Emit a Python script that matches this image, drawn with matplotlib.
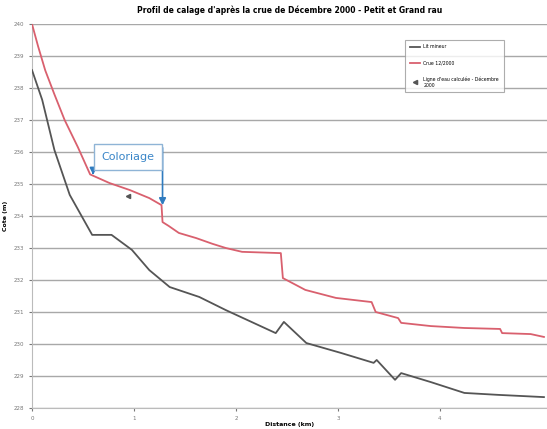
import matplotlib.pyplot as plt

# Profil en long (distance en km, cote en m)
dist_crue = [0, 0.06, 0.13, 0.22, 0.32, 0.45, 0.57, 0.76, 0.96, 1.15, 1.27, 1.28, 1.34, 1.44,
             1.61, 1.77, 1.90, 2.06, 2.44, 2.46, 2.68, 2.98, 3.33, 3.37, 3.59, 3.62, 3.91,
             4.24, 4.59, 4.61, 4.89, 5.02]
cote_crue = [240.0, 239.3, 238.55, 237.8, 237.0, 236.15, 235.3, 235.03, 234.81, 234.56,
             234.34, 233.81, 233.69, 233.47, 233.31, 233.13, 233.0, 232.88, 232.84, 232.06,
             231.69, 231.44, 231.31, 231.0, 230.81, 230.66, 230.56, 230.5, 230.47, 230.34,
             230.31, 230.22]

dist_fond = [0, 0.10, 0.22, 0.37, 0.59, 0.78, 0.98, 1.15, 1.35, 1.64, 1.90, 2.39, 2.47, 2.69,
             3.03, 3.35, 3.38, 3.56, 3.62, 3.91, 4.24, 4.57, 5.02]
cote_fond = [238.56, 237.63, 236.06, 234.66, 233.41, 233.41, 232.94, 232.31, 231.78, 231.47,
             231.06, 230.34, 230.69, 230.03, 229.72, 229.41, 229.5, 228.88, 229.09, 228.81,
             228.47, 228.41, 228.34]

dist_laisse = [0.94]
cote_laisse = [234.62]

x_ticks = [0, 1, 2, 3, 4]
y_ticks = list(range(228, 241))

fig = plt.figure(figsize=(5.47, 4.29), dpi=100)
ax = fig.add_axes([0.0585, 0.049, 0.9415, 0.895])

for y in y_ticks:
    ax.axhline(y, color='#a8a8a8', linewidth=1.0, zorder=1)

ax.plot(dist_fond, cote_fond, color='#555555', linewidth=1.3, label="Lit mineur", zorder=3)
ax.plot(dist_crue, cote_crue, color='#d9606e', linewidth=1.3, label="Crue 12/2000", zorder=3)
ax.plot(dist_laisse, cote_laisse, linestyle='none', marker='<', markersize=3, color='#555555',
        label="Ligne d'eau calculée - Décembre\n2000", zorder=4)

ax.set_xlim(0, 5.05)
ax.set_ylim(228, 240)
ax.set_xticks(x_ticks)
ax.set_yticks(y_ticks)
ax.tick_params(labelsize=4, colors='#777777', length=2)
for s in ['top', 'right']:
    ax.spines[s].set_visible(False)
for s in ['left', 'bottom']:
    ax.spines[s].set_color('#bbbbbb')

ax.set_title("Profil de calage d'après la crue de Décembre 2000 - Petit et Grand rau",
             fontsize=5.5, fontweight='bold', pad=8)
ax.set_xlabel("Distance (km)", fontsize=4.5, fontweight='bold', labelpad=1)
ax.set_ylabel("Cote (m)", fontsize=4.5, fontweight='bold')

leg = ax.legend(loc='upper left', bbox_to_anchor=(0.72, 0.965), fontsize=3.3, frameon=True,
                fancybox=False, edgecolor='#999999', handlelength=2.2, borderpad=1.0,
                labelspacing=2.4)
leg.get_frame().set_linewidth(0.8)

# annotation "Coloriage"
ax.annotate("", xy=(0.6, 235.2), xytext=(0.6, 235.45),
            arrowprops=dict(arrowstyle='-|>', color='#2f7bbf', lw=1.2), zorder=5)
ax.annotate("", xy=(1.28, 234.25), xytext=(1.28, 236.22),
            arrowprops=dict(arrowstyle='-|>', color='#2f7bbf', lw=1.2), zorder=5)
ax.text(0.94, 235.85, "Coloriage", fontsize=8, color='#3a86c8', ha='center', va='center',
        bbox=dict(boxstyle='square,pad=0.7', facecolor='white', edgecolor='#8fb4d6', lw=1),
        zorder=6)

fig.savefig("out.png", dpi=100)
